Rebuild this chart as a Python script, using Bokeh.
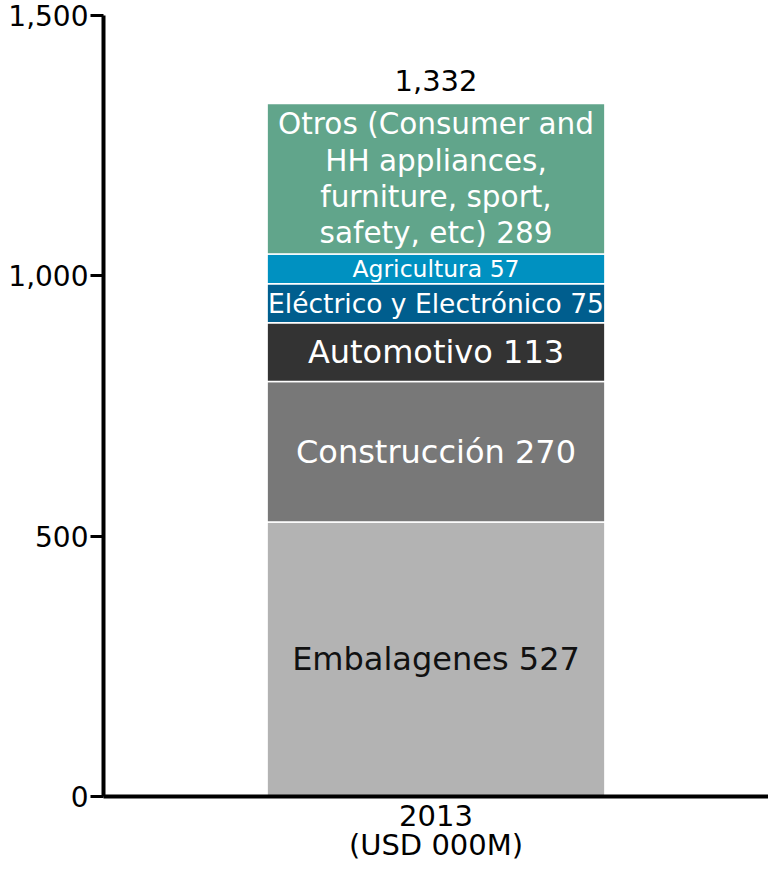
from bokeh.plotting import figure
from bokeh.models import Range1d, FactorRange, NumeralTickFormatter, FixedTicker, ColumnDataSource
from bokeh.core.properties import value
from bokeh.embed import file_html
from bokeh.resources import INLINE

# ---- data ----
category = ["2013\n(USD 000M)"]
segments = ["Embalagenes", "Construcción", "Automotivo", "Eléctrico y Electrónico",
            "Agricultura", "Otros (Consumer and\nHH appliances,\nfurniture, sport,\nsafety, etc)"]
values = [527, 270, 113, 75, 57, 289]
total_value = 1332
y_ticks = [0, 500, 1000, 1500]

# ---- styles ----
colors = ["#b3b3b3", "#787878", "#333333", "#005e8e", "#0091c1", "#61a58b"]
label_colors = ["#111111", "white", "white", "white", "white", "white"]
label_sizes = ["32px", "32px", "32px", "26.5px", "23.5px", "29.5px"]
FONT = "DejaVu Sans"

p = figure(x_range=FactorRange(*category), y_range=Range1d(0, 1500),
           width=768, height=865, output_backend="svg", toolbar_location=None,
           min_border_left=103, min_border_right=0, min_border_top=15, min_border_bottom=60)
p.outline_line_color = None
p.xgrid.grid_line_color = None
p.ygrid.grid_line_color = None
p.background_fill_color = "white"

keys = [f"s{i}" for i in range(len(values))]
src = {"x": category}
for k, v in zip(keys, values):
    src[k] = [v]
p.vbar_stack(keys, x="x", width=0.508, source=ColumnDataSource(src), color=colors,
             line_color="white", line_width=1.5)

# segment labels
bottoms = []
acc = 0
for v in values:
    bottoms.append(acc)
    acc += v
mids = [b + v / 2 for b, v in zip(bottoms, values)]
texts = [f"{s} {v}" for s, v in zip(segments, values)]
lab = ColumnDataSource(dict(x=category * len(values), y=mids, text=texts,
                            color=label_colors, size=label_sizes))
p.text(x="x", y="y", text="text", source=lab, text_align="center", text_baseline="middle",
       text_color="color", text_font_size="size", text_font=value(FONT), text_line_height=1.07)

# total label
p.text(x=category, y=[acc], text=[f"{total_value:,}"], text_align="center",
       text_baseline="bottom", y_offset=-12, text_color="black",
       text_font_size="29px", text_font=value(FONT))

# axes
ya = p.yaxis[0]
ya.ticker = FixedTicker(ticks=y_ticks)
ya.formatter = NumeralTickFormatter(format="0,0")
ya.axis_line_width = 4
ya.major_tick_out = 13
ya.major_tick_in = 0
ya.major_tick_line_width = 3
ya.minor_tick_line_color = None
ya.major_label_text_font = FONT
ya.major_label_text_font_size = "28px"
ya.major_label_text_color = "black"
ya.major_label_standoff = 2

xa = p.xaxis[0]
xa.axis_line_width = 4
xa.major_tick_line_color = None
xa.major_tick_out = 0
xa.major_tick_in = 0
xa.minor_tick_line_color = None
xa.major_label_text_font = FONT
xa.major_label_text_font_size = "29px"
xa.major_label_text_color = "black"
xa.major_label_text_line_height = 0.88
xa.major_label_standoff = 2

open("out.html", "w").write(file_html(p, INLINE))
